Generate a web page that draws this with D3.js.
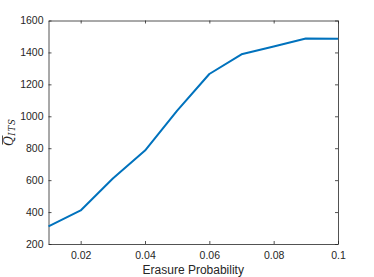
<!DOCTYPE html>
<html>
<head>
<meta charset="utf-8">
<script src="https://cdn.jsdelivr.net/npm/d3@7"></script>
<style>
body { margin: 0; background: #fff; }
text { font-family: "Liberation Sans", Arial, sans-serif; }
</style>
</head>
<body>
<svg id="chart" width="374" height="277"></svg>
<script>
// data
const erasureProb = [0.01, 0.02, 0.03, 0.04, 0.05, 0.06, 0.07, 0.08, 0.09, 0.1];
const qIts = [310, 410, 610, 785, 1035, 1265, 1388, 1437, 1487, 1485];
const xTicks = [0.02, 0.04, 0.06, 0.08, 0.1];
const yTicks = [200, 400, 600, 800, 1000, 1200, 1400, 1600];

const svg = d3.select("svg#chart");
const margin = { top: 20.5, right: 36, bottom: 33, left: 48.5 };
const width = +svg.attr("width");
const height = +svg.attr("height");
const chartWidth = width - margin.left - margin.right;
const chartHeight = height - margin.top - margin.bottom;
const axisColor = "#262626";

const g = svg.append("g").attr("transform", `translate(${margin.left},${margin.top})`);

const x = d3.scaleLinear([0.01, 0.1], [0, chartWidth]);
const y = d3.scaleLinear([200, 1600], [chartHeight, 0]);

const styleAxis = (sel) => {
	sel.select(".domain").attr("stroke", axisColor).attr("stroke-width", 0.8);
	sel.selectAll(".tick line").attr("stroke", axisColor).attr("stroke-width", 0.8);
	sel.selectAll(".tick text").attr("fill", axisColor).style("font-size", "10.5px");
};

// bottom and left axes with inward ticks
g.append("g")
	.attr("transform", `translate(0,${chartHeight})`)
	.call(d3.axisBottom(x).tickValues(xTicks).tickSizeInner(-3).tickSizeOuter(0).tickPadding(8).tickFormat(d3.format("~g")))
	.call(styleAxis);
g.append("g")
	.call(d3.axisLeft(y).tickValues(yTicks).tickSizeInner(-3).tickSizeOuter(0).tickPadding(5).tickFormat(d3.format("d")))
	.call(styleAxis);
// top and right (box)
g.append("g")
	.call(d3.axisTop(x).tickValues(xTicks).tickSizeInner(-3).tickSizeOuter(0).tickFormat(""))
	.call(styleAxis);
g.append("g")
	.attr("transform", `translate(${chartWidth},0)`)
	.call(d3.axisRight(y).tickValues(yTicks).tickSizeInner(-3).tickSizeOuter(0).tickFormat(""))
	.call(styleAxis);

const line = d3.line()
	.x((d, i) => x(erasureProb[i]))
	.y((d) => y(d));

g.append("path")
	.datum(qIts)
	.attr("fill", "none")
	.attr("stroke", "#0072BD")
	.attr("stroke-width", 2)
	.attr("stroke-linejoin", "round")
	.attr("d", line);

// x label
svg.append("text")
	.attr("x", margin.left + chartWidth / 2)
	.attr("y", 274)
	.attr("text-anchor", "middle")
	.attr("fill", axisColor)
	.style("font-size", "12px")
	.text("Erasure Probability");

// y label: Q-bar with italic subscript ITS
const yl = svg.append("g").attr("transform", "translate(13,146) rotate(-90)");
const yText = yl.append("text")
	.attr("text-anchor", "start")
	.attr("fill", axisColor)
	.style("font-family", "'DejaVu Serif', 'Liberation Serif', serif")
	.style("font-style", "italic");
yText.append("tspan").style("font-size", "12px").text("Q");
yText.append("tspan").attr("dy", 2).attr("dx", 0.5)
	.style("font-size", "8.5px").style("letter-spacing", "0.8px").text("ITS");
yl.append("line")
	.attr("x1", 1.5).attr("x2", 10.5)
	.attr("y1", -10.5).attr("y2", -10.5)
	.attr("stroke", axisColor)
	.attr("stroke-width", 0.8);
</script>
</body>
</html>
